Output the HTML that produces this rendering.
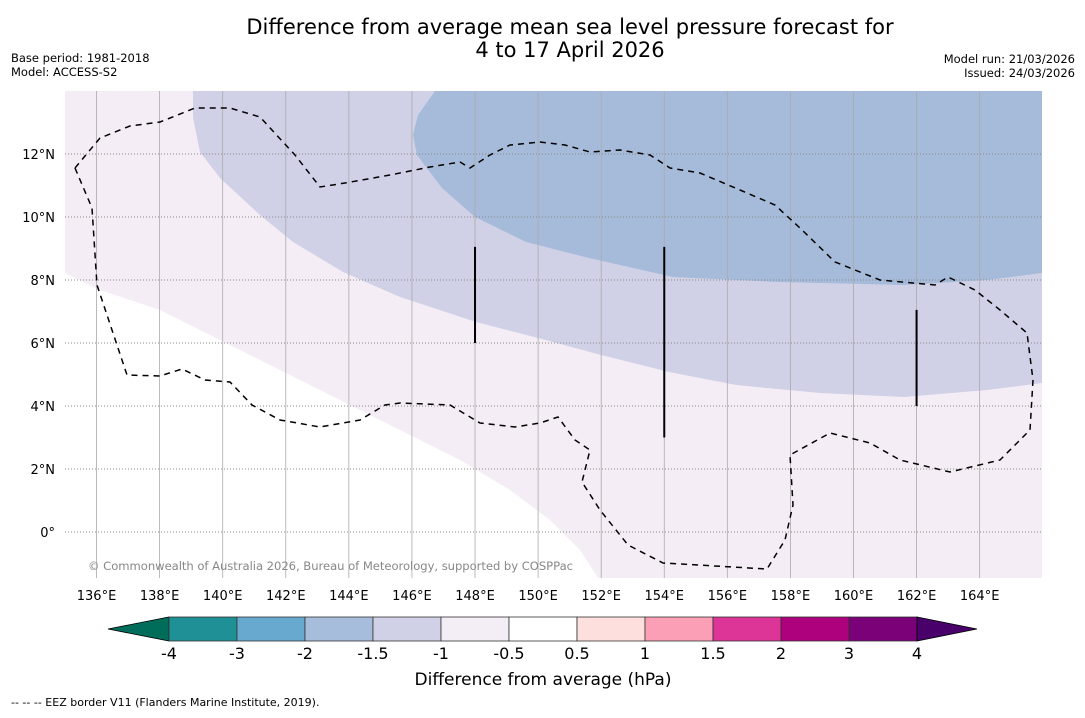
<!DOCTYPE html>
<html><head><meta charset="utf-8"><style>
html,body{margin:0;padding:0;background:#fff;}
svg text{font-family:"DejaVu Sans","Liberation Sans",sans-serif;}
</style></head><body>
<svg id="chart" width="1085" height="713" xmlns="http://www.w3.org/2000/svg">
<text x="570" y="34" font-size="21" text-anchor="middle">Difference from average mean sea level pressure forecast for</text>
<text x="570" y="57" font-size="21" text-anchor="middle">4 to 17 April 2026</text>
<text x="11" y="62" font-size="11.5">Base period: 1981-2018</text>
<text x="11" y="76" font-size="11.5">Model: ACCESS-S2</text>
<text x="1075" y="63" font-size="11.5" text-anchor="end">Model run: 21/03/2026</text>
<text x="1075" y="77" font-size="11.5" text-anchor="end">Issued: 24/03/2026</text>
<defs><clipPath id="mapclip"><rect x="65" y="91" width="977" height="487"/></clipPath></defs>
<g id="map" clip-path="url(#mapclip)"></g>
<g id="axes"></g>
<g id="cbar"></g>
<text x="543" y="685" font-size="17" text-anchor="middle">Difference from average (hPa)</text>
<text x="11" y="706" font-size="11" font-family="Liberation Sans Narrow, Liberation Sans, sans-serif">--  --  -- EEZ border V11 (Flanders Marine Institute, 2019).</text>
</svg>
<script>
const NS="http://www.w3.org/2000/svg";
const lonTicks=[136,138,140,142,144,146,148,150,152,154,156,158,160,162,164];
const latTicks=[0,2,4,6,8,10,12];
const latLabels=["0°","2°N","4°N","6°N","8°N","10°N","12°N"];
const toLL=p=>[135+(p[0]-65)/31.54,14-(p[1]-91)/31.5];
const whitePx=[[65,273],[100,290],[160,310],[220,340],[280,370],[340,400],[400,430],[460,460],[510,490],[550,520],[580,550],[598,578],[65,578]];
const lev15Px=[[193,91],[193,118],[200,152],[220,178],[260,215],[293,242],[343,272],[400,297],[476,322],[538,338],[601,355],[669,372],[736,385],[820,393],[904,397],[987,390],[1050,382],[1050,91]];
const lev2Px=[[435,91],[418,115],[413,135],[417,155],[442,188],[475,217],[526,242],[589,258],[673,277],[778,282],[904,285],[987,280],[1050,272],[1050,91]];
const whiteBoundary=whitePx.map(toLL), lev15Boundary=lev15Px.map(toLL), lev2Boundary=lev2Px.map(toLL);
const eezPx=[[75,168],[92,208],[97,285],[127,375],[160,376],[182,369],[205,380],[230,382],[252,405],[280,420],[320,427],[360,420],[385,405],[400,403],[450,405],[480,423],[515,427],[540,423],[558,417],[575,440],[590,450],[582,482],[600,510],[628,545],[663,563],[767,569],[785,540],[793,505],[790,455],[830,433],[870,443],[900,460],[950,472],[1000,460],[1030,430],[1033,380],[1027,333],[1000,310],[975,290],[948,277],[935,285],[880,280],[835,262],[800,228],[775,205],[740,190],[700,173],[670,168],[650,155],[620,150],[590,152],[565,145],[540,142],[510,145],[490,155],[470,168],[460,162],[430,167],[390,175],[345,183],[320,187],[295,155],[260,117],[230,108],[195,108],[160,122],[130,126],[100,138],[75,168]];
const eez=eezPx.map(toLL);
const bars=[[148,9.05,6.0],[154,9.05,3.0],[162,7.05,4.0]];
const cbLevels=["-4","-3","-2","-1.5","-1","-0.5","0.5","1","1.5","2","3","4"];
const cbColors=["#1e9096","#67a9cf","#a6bddb","#d0d1e6","#f3edf6","#ffffff","#fde0dd","#fa9fb5","#dd3497","#ae017e","#7a0177"];
const X=lon=>65+(lon-135)*31.54, Y=lat=>91+(14-lat)*31.5;
const map=document.getElementById('map'), axes=document.getElementById('axes'), cb=document.getElementById('cbar');
function mk(tag,attrs,parent){const e=document.createElementNS(NS,tag);for(const k in attrs)e.setAttribute(k,attrs[k]);parent.appendChild(e);return e;}
function pts(a){return a.map(p=>X(p[0]).toFixed(1)+","+Y(p[1]).toFixed(1)).join(" ");}
let r=mk('rect',{x:65,y:91,width:977,height:487,fill:"#f4edf5"},map);


let p=mk('polygon',{points:pts(whiteBoundary),fill:"#ffffff"},map);


p=mk('polygon',{points:pts(lev15Boundary),fill:"#d0d1e6"},map);


p=mk('polygon',{points:pts(lev2Boundary),fill:"#a6bbda"},map);


lonTicks.forEach(l=>{let g=mk('line',{x1:X(l),x2:X(l),y1:91,y2:578,stroke:"#aaa",'stroke-width':0.8},map);

});
latTicks.forEach(l=>{let g=mk('line',{x1:65,x2:1042,y1:Y(l),y2:Y(l),stroke:"#888",'stroke-width':1,'stroke-dasharray':"1,2"},map);

});
let e=mk('polyline',{points:pts(eez),fill:"none",stroke:"#000",'stroke-width':1.5,'stroke-dasharray':"6,5"},map);


bars.forEach(b=>{let l=mk('line',{x1:X(b[0]),x2:X(b[0]),y1:Y(b[1]),y2:Y(b[2]),stroke:"#000",'stroke-width':2},map);

});
let c=mk('text',{x:88,y:570,'font-size':11.6,fill:"#888",textLength:485},map);c.textContent="© Commonwealth of Australia 2026, Bureau of Meteorology, supported by COSPPac";


lonTicks.forEach(l=>{let t=mk('text',{x:X(l),y:600,'font-size':13,'text-anchor':'middle'},axes);t.textContent=l+"°E";

});
latTicks.forEach((l,i)=>{let t=mk('text',{x:55,y:Y(l)+5,'font-size':13,'text-anchor':'end'},axes);t.textContent=latLabels[i];

});
const cx0=169,cw=68,cy=617,ch=24;
let a=mk('polygon',{points:`${cx0},${cy} ${cx0},${cy+ch} 108,${cy+ch/2}`,fill:"#006d5a",stroke:"#000",'stroke-width':0.8},cb);


cbColors.forEach((col,i)=>{let s=mk('rect',{x:cx0+i*cw,y:cy,width:cw,height:ch,fill:col,stroke:"#333",'stroke-width':0.8},cb);

});
const xe=cx0+cbColors.length*cw;
a=mk('polygon',{points:`${xe},${cy} ${xe},${cy+ch} 977,${cy+ch/2}`,fill:"#49006a",stroke:"#000",'stroke-width':0.8},cb);


cbLevels.forEach((v,i)=>{let t=mk('text',{x:cx0+i*cw,y:659,'font-size':16,'text-anchor':'middle'},cb);t.textContent=v;

});
</script>
</body></html>
